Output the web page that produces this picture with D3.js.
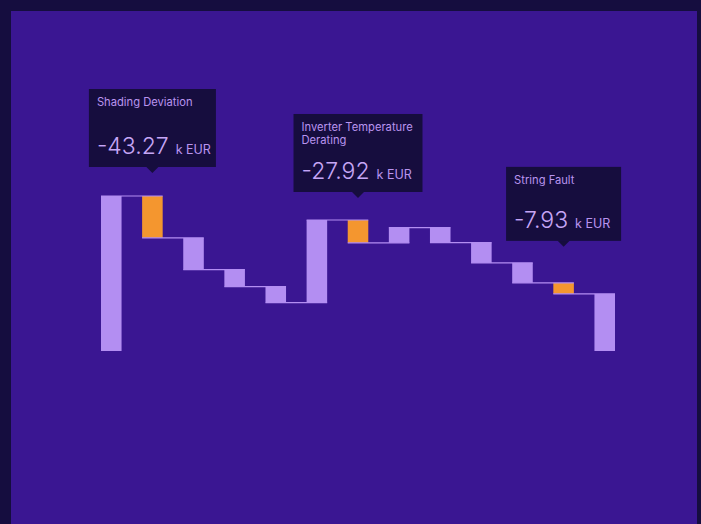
<!DOCTYPE html>
<html>
<head>
<meta charset="utf-8">
<script src="https://cdn.jsdelivr.net/npm/d3@7"></script>
<style>
  body { margin: 0; background: #150d3f; }
  svg { display: block; font-family: Inter, "Noto Sans", sans-serif; }
</style>
</head>
<body>
<div class="chart"></div>
<script>
// waterfall steps, k EUR (first = start value, last = closing total)
const categories = [
  "Expected Yield", "Shading Deviation", "Soiling", "Availability", "Clipping",
  "Irradiance Gain", "Inverter Temperature Derating", "Temperature Gain",
  "Module Mismatch", "Cable Losses", "Degradation", "String Fault", "Actual Yield"
];
const kinds = ["total", "delta", "delta", "delta", "delta", "delta", "delta",
               "delta", "delta", "delta", "delta", "delta", "total"];
const values = [160, -43.27, -32.7, -17.5, -16.5, 85.2, -23.6, 15.8, -15.5, -21, -20.6, -11.4, null];

// callouts
const highlighted = ["Shading Deviation", "Inverter Temperature Derating", "String Fault"];
const calloutValues = ["-43.27", "-27.92", "-7.93"];
const unitLabel = "k EUR";

const width = 701, height = 524;
const colors = { outer: "#150d3f", panel: "#3a1692", bar: "#b38ef2", hi: "#f4962f",
                 tipBg: "#160d3e", title: "#b994ef", value: "#c6a6f6" };

// box size + distance of the pointer tip above the bar
const calloutLayout = [
  { w: 127, h: 78, gap: 23 },
  { w: 129, h: 78, gap: 22 },
  { w: 115, h: 74, gap: 36 }
];

// running levels
let level = 0;
const steps = categories.map((c, i) => {
  let start, end;
  if (kinds[i] === "total" && i === 0) { start = 0; end = values[i]; }
  else if (kinds[i] === "total") { start = level; end = 0; }
  else { start = level; end = level + values[i]; }
  if (i < categories.length - 1) level = end;
  return { cat: c, start, end, hi: highlighted.includes(c) };
});

const svg = d3.select(".chart").append("svg")
  .attr("width", width).attr("height", height);

svg.append("rect").attr("x", 11).attr("y", 11)
  .attr("width", 686).attr("height", height - 11)
  .attr("fill", colors.panel);

const x = d3.scaleBand().domain(categories).range([101, 615]).paddingInner(0.5).paddingOuter(0);
const y = d3.scaleLinear().domain([0, 160]).range([351, 196]);
const bw = x.bandwidth();

// bars
svg.append("g").selectAll("rect")
  .data(steps)
  .join("rect")
    .attr("x", d => x(d.cat))
    .attr("y", d => y(Math.max(d.start, d.end)))
    .attr("width", bw)
    .attr("height", d => Math.abs(y(d.start) - y(d.end)))
    .attr("fill", d => d.hi ? colors.hi : colors.bar);

// connectors: from left of bar i to right of bar i+1 at the level bar i ends
svg.append("g").selectAll("line")
  .data(steps.slice(0, -1))
  .join("line")
    .attr("x1", d => x(d.cat))
    .attr("x2", (d, i) => x(categories[i + 1]) + bw)
    .attr("y1", d => y(d.end))
    .attr("y2", d => y(d.end))
    .attr("stroke", colors.bar)
    .attr("stroke-width", 1.2);

// callouts
highlighted.forEach((name, k) => {
  const s = steps.find(d => d.cat === name);
  const lay = calloutLayout[k];
  const cx = x(name) + bw / 2;
  const tipY = y(s.start) - lay.gap;
  const top = tipY - 6 - lay.h;
  const left = cx - lay.w / 2;
  const g = svg.append("g");

  g.append("rect").attr("x", left).attr("y", top)
    .attr("width", lay.w).attr("height", lay.h)
    .attr("fill", colors.tipBg);
  g.append("path")
    .attr("d", `M${cx - 6},${tipY - 6}L${cx + 6},${tipY - 6}L${cx},${tipY}Z`)
    .attr("fill", colors.tipBg);

  // title with wrapping
  const title = g.append("text")
    .attr("x", left + 8).attr("y", top + 17)
    .attr("font-size", 11.2).attr("fill", colors.title);
  const words = name.split(" ");
  let line = [], tspan = title.append("tspan").attr("x", left + 8).attr("dy", 0);
  words.forEach(w => {
    line.push(w);
    tspan.text(line.join(" "));
    if (tspan.node().getComputedTextLength() > lay.w - 12 && line.length > 1) {
      line.pop();
      tspan.text(line.join(" "));
      line = [w];
      tspan = title.append("tspan").attr("x", left + 8).attr("dy", 13).text(w);
    }
  });

  const val = g.append("text")
    .attr("x", left + 8).attr("y", top + lay.h - 13)
    .attr("fill", colors.value);
  val.append("tspan").attr("font-size", 23).attr("font-weight", 300).text(calloutValues[k]);
  val.append("tspan").attr("dx", 7).attr("font-size", 12.5).attr("fill", colors.title).text(unitLabel);
});
</script>
</body>
</html>
